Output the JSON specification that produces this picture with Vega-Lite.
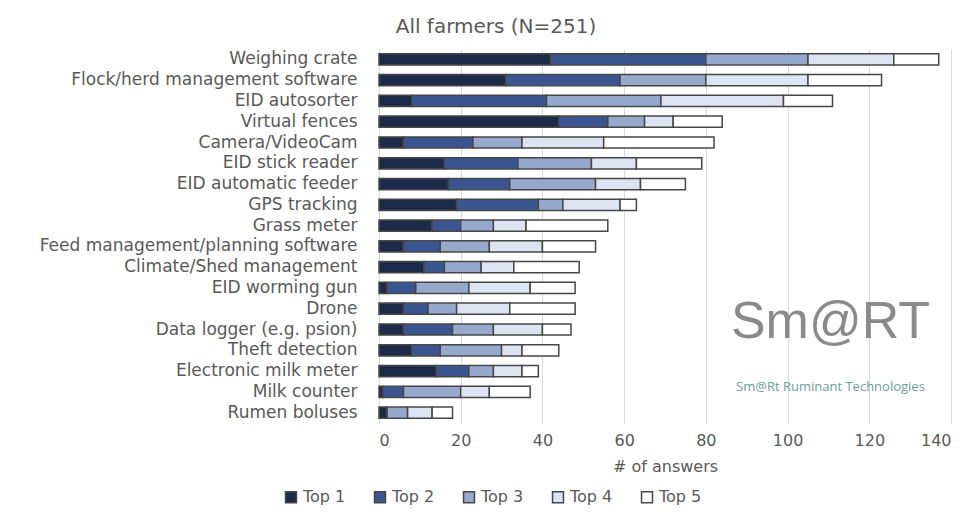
{
  "$schema": "https://vega.github.io/schema/vega-lite/v6.json",
  "autosize": "none",
  "width": 572,
  "height": 374,
  "padding": {"left": 379, "top": 49, "right": 21, "bottom": 92},
  "background": "white",
  "config": {
    "font": "DejaVu Sans",
    "view": {"stroke": null},
    "axis": {"labelColor": "#595959", "titleColor": "#595959", "labelFont": "DejaVu Sans", "titleFont": "DejaVu Sans"},
    "legend": {"labelColor": "#595959", "labelFont": "DejaVu Sans"}
  },
  "title": {
    "text": "All farmers (N=251)",
    "font": "DejaVu Sans",
    "fontSize": 20,
    "fontWeight": "normal",
    "color": "#595959",
    "anchor": "middle",
    "dx": -169,
    "offset": 12
  },
  "datasets": {
    "answers": [
      {"item": "Weighing crate", "rank": "Top 1", "n": 42}, {"item": "Weighing crate", "rank": "Top 2", "n": 38}, {"item": "Weighing crate", "rank": "Top 3", "n": 25}, {"item": "Weighing crate", "rank": "Top 4", "n": 21}, {"item": "Weighing crate", "rank": "Top 5", "n": 11},
      {"item": "Flock/herd management software", "rank": "Top 1", "n": 31}, {"item": "Flock/herd management software", "rank": "Top 2", "n": 28}, {"item": "Flock/herd management software", "rank": "Top 3", "n": 21}, {"item": "Flock/herd management software", "rank": "Top 4", "n": 25}, {"item": "Flock/herd management software", "rank": "Top 5", "n": 18},
      {"item": "EID autosorter", "rank": "Top 1", "n": 8}, {"item": "EID autosorter", "rank": "Top 2", "n": 33}, {"item": "EID autosorter", "rank": "Top 3", "n": 28}, {"item": "EID autosorter", "rank": "Top 4", "n": 30}, {"item": "EID autosorter", "rank": "Top 5", "n": 12},
      {"item": "Virtual fences", "rank": "Top 1", "n": 44}, {"item": "Virtual fences", "rank": "Top 2", "n": 12}, {"item": "Virtual fences", "rank": "Top 3", "n": 9}, {"item": "Virtual fences", "rank": "Top 4", "n": 7}, {"item": "Virtual fences", "rank": "Top 5", "n": 12},
      {"item": "Camera/VideoCam", "rank": "Top 1", "n": 6}, {"item": "Camera/VideoCam", "rank": "Top 2", "n": 17}, {"item": "Camera/VideoCam", "rank": "Top 3", "n": 12}, {"item": "Camera/VideoCam", "rank": "Top 4", "n": 20}, {"item": "Camera/VideoCam", "rank": "Top 5", "n": 27},
      {"item": "EID stick reader", "rank": "Top 1", "n": 16}, {"item": "EID stick reader", "rank": "Top 2", "n": 18}, {"item": "EID stick reader", "rank": "Top 3", "n": 18}, {"item": "EID stick reader", "rank": "Top 4", "n": 11}, {"item": "EID stick reader", "rank": "Top 5", "n": 16},
      {"item": "EID automatic feeder", "rank": "Top 1", "n": 17}, {"item": "EID automatic feeder", "rank": "Top 2", "n": 15}, {"item": "EID automatic feeder", "rank": "Top 3", "n": 21}, {"item": "EID automatic feeder", "rank": "Top 4", "n": 11}, {"item": "EID automatic feeder", "rank": "Top 5", "n": 11},
      {"item": "GPS tracking", "rank": "Top 1", "n": 19}, {"item": "GPS tracking", "rank": "Top 2", "n": 20}, {"item": "GPS tracking", "rank": "Top 3", "n": 6}, {"item": "GPS tracking", "rank": "Top 4", "n": 14}, {"item": "GPS tracking", "rank": "Top 5", "n": 4},
      {"item": "Grass meter", "rank": "Top 1", "n": 13}, {"item": "Grass meter", "rank": "Top 2", "n": 7}, {"item": "Grass meter", "rank": "Top 3", "n": 8}, {"item": "Grass meter", "rank": "Top 4", "n": 8}, {"item": "Grass meter", "rank": "Top 5", "n": 20},
      {"item": "Feed management/planning software", "rank": "Top 1", "n": 6}, {"item": "Feed management/planning software", "rank": "Top 2", "n": 9}, {"item": "Feed management/planning software", "rank": "Top 3", "n": 12}, {"item": "Feed management/planning software", "rank": "Top 4", "n": 13}, {"item": "Feed management/planning software", "rank": "Top 5", "n": 13},
      {"item": "Climate/Shed management", "rank": "Top 1", "n": 11}, {"item": "Climate/Shed management", "rank": "Top 2", "n": 5}, {"item": "Climate/Shed management", "rank": "Top 3", "n": 9}, {"item": "Climate/Shed management", "rank": "Top 4", "n": 8}, {"item": "Climate/Shed management", "rank": "Top 5", "n": 16},
      {"item": "EID worming gun", "rank": "Top 1", "n": 2}, {"item": "EID worming gun", "rank": "Top 2", "n": 7}, {"item": "EID worming gun", "rank": "Top 3", "n": 13}, {"item": "EID worming gun", "rank": "Top 4", "n": 15}, {"item": "EID worming gun", "rank": "Top 5", "n": 11},
      {"item": "Drone", "rank": "Top 1", "n": 6}, {"item": "Drone", "rank": "Top 2", "n": 6}, {"item": "Drone", "rank": "Top 3", "n": 7}, {"item": "Drone", "rank": "Top 4", "n": 13}, {"item": "Drone", "rank": "Top 5", "n": 16},
      {"item": "Data logger (e.g. psion)", "rank": "Top 1", "n": 6}, {"item": "Data logger (e.g. psion)", "rank": "Top 2", "n": 12}, {"item": "Data logger (e.g. psion)", "rank": "Top 3", "n": 10}, {"item": "Data logger (e.g. psion)", "rank": "Top 4", "n": 12}, {"item": "Data logger (e.g. psion)", "rank": "Top 5", "n": 7},
      {"item": "Theft detection", "rank": "Top 1", "n": 8}, {"item": "Theft detection", "rank": "Top 2", "n": 7}, {"item": "Theft detection", "rank": "Top 3", "n": 15}, {"item": "Theft detection", "rank": "Top 4", "n": 5}, {"item": "Theft detection", "rank": "Top 5", "n": 9},
      {"item": "Electronic milk meter", "rank": "Top 1", "n": 14}, {"item": "Electronic milk meter", "rank": "Top 2", "n": 8}, {"item": "Electronic milk meter", "rank": "Top 3", "n": 6}, {"item": "Electronic milk meter", "rank": "Top 4", "n": 7}, {"item": "Electronic milk meter", "rank": "Top 5", "n": 4},
      {"item": "Milk counter", "rank": "Top 1", "n": 1}, {"item": "Milk counter", "rank": "Top 2", "n": 5}, {"item": "Milk counter", "rank": "Top 3", "n": 14}, {"item": "Milk counter", "rank": "Top 4", "n": 7}, {"item": "Milk counter", "rank": "Top 5", "n": 10},
      {"item": "Rumen boluses", "rank": "Top 1", "n": 2}, {"item": "Rumen boluses", "rank": "Top 2", "n": 0}, {"item": "Rumen boluses", "rank": "Top 3", "n": 5}, {"item": "Rumen boluses", "rank": "Top 4", "n": 6}, {"item": "Rumen boluses", "rank": "Top 5", "n": 5}
    ]
  },
  "layer": [
    {
      "data": {"name": "answers"},
      "mark": {"type": "bar", "stroke": "#474747", "strokeWidth": 1.5},
      "encoding": {
        "y": {
          "field": "item",
          "type": "nominal",
          "sort": null,
          "scale": {"paddingInner": 0.46, "paddingOuter": 0.23},
          "axis": {"title": null, "domain": false, "ticks": false, "labelPadding": 22, "labelFontSize": 17, "labelLimit": 400}
        },
        "x": {
          "field": "n",
          "type": "quantitative",
          "stack": "zero",
          "scale": {"domain": [0, 140], "nice": false},
          "axis": {
            "title": "# of answers",
            "titleFontSize": 16,
            "titleFontWeight": "normal",
            "titlePadding": 10,
            "values": [0, 20, 40, 60, 80, 100, 120, 140],
            "labelFontSize": 16,
            "labelPadding": 9,
            "domain": false,
            "ticks": false,
            "grid": true,
            "gridColor": "#d9d9d9",
            "gridWidth": 1
          }
        },
        "color": {
          "field": "rank",
          "type": "nominal",
          "scale": {
            "domain": ["Top 1", "Top 2", "Top 3", "Top 4", "Top 5"],
            "range": ["#1d2b4b", "#3b5591", "#97a8cd", "#dde3f0", "#ffffff"]
          },
          "legend": {
            "title": null,
            "orient": "none",
            "direction": "horizontal",
            "legendX": -96,
            "legendY": 440,
            "symbolType": "square",
            "symbolSize": 120,
            "symbolStrokeColor": "#474747",
            "symbolStrokeWidth": 1.5,
            "labelFontSize": 16,
            "labelOffset": 4,
            "columnPadding": 25
          }
        },
        "order": {"field": "rank", "type": "ordinal"}
      }
    },
    {
      "data": {"values": [{}]},
      "mark": {"type": "text", "text": "Sm@RT", "font": "Liberation Sans", "fontSize": 52, "color": "#8a8a8a", "align": "center", "baseline": "middle", "dy": -8},
      "encoding": {
        "x": {"datum": 110.5, "type": "quantitative"},
        "y": {"datum": "Data logger (e.g. psion)", "type": "nominal"}
      }
    },
    {
      "data": {"values": [{}]},
      "mark": {"type": "text", "text": "Sm@Rt Ruminant Technologies", "font": "Open Sans", "fontSize": 13, "color": "#6a9e9e", "align": "center", "baseline": "middle", "dy": -5},
      "encoding": {
        "x": {"datum": 110.5, "type": "quantitative"},
        "y": {"datum": "Milk counter", "type": "nominal"}
      }
    }
  ]
}
